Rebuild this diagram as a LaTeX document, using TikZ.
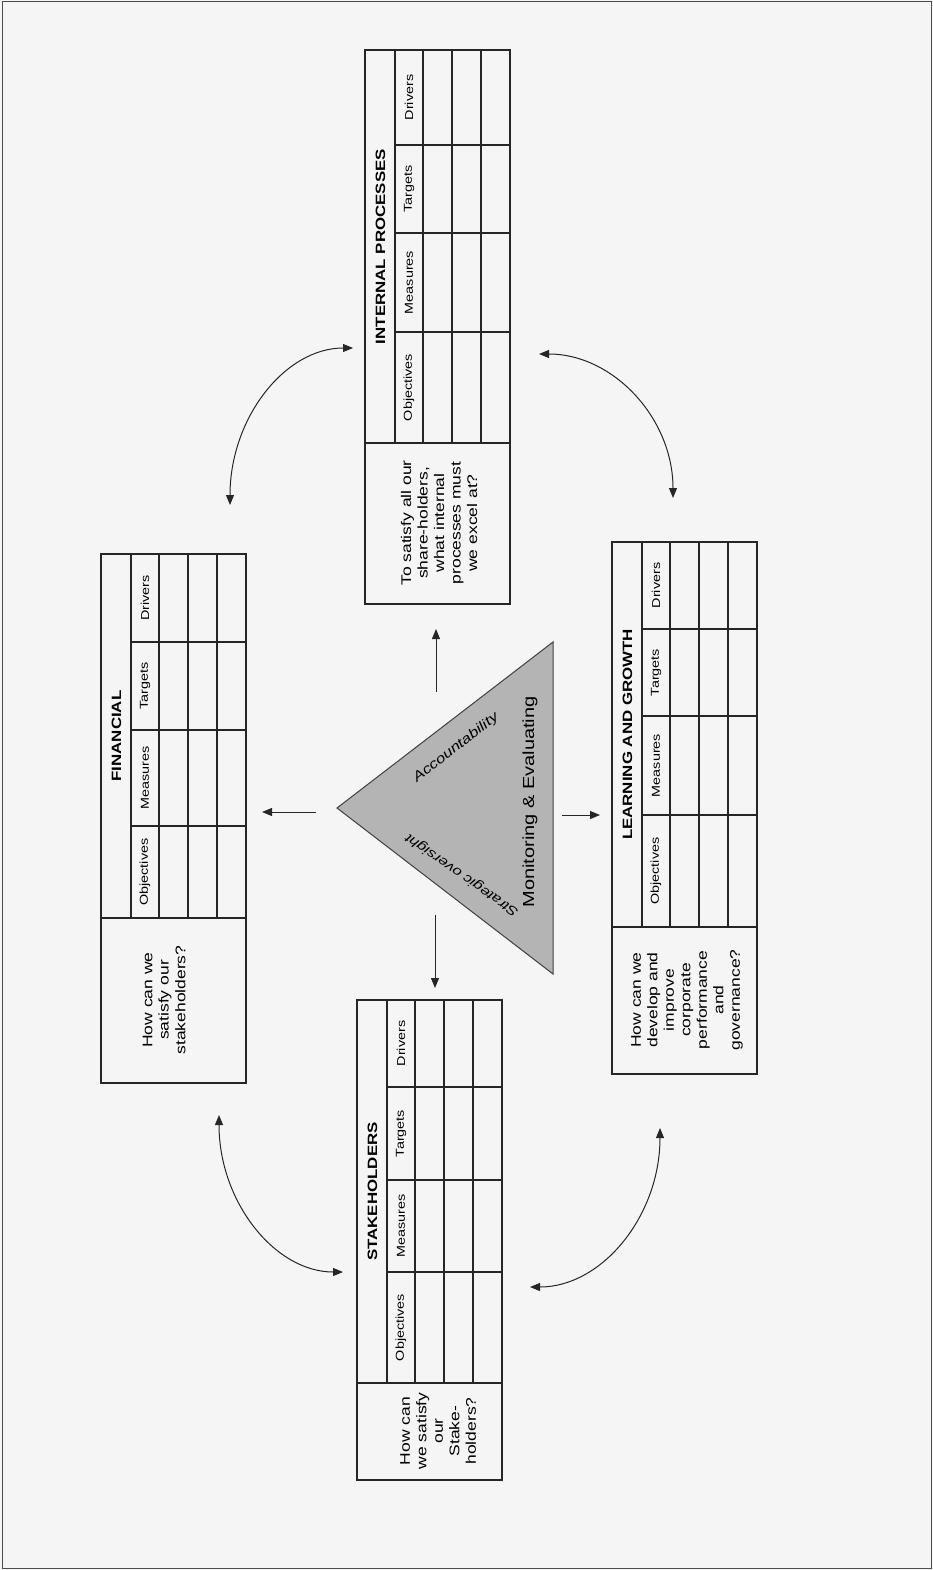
\documentclass[tikz,border=0pt]{standalone}
\usepackage{fontspec}
\setmainfont{Liberation Sans}[FakeStretch=1.25]
\usetikzlibrary{arrows.meta}
\definecolor{bgc}{RGB}{245,245,245}
\definecolor{trif}{RGB}{180,180,180}
\tikzset{
  tbl/.style={draw=black!85, line width=1.1pt},
  ttl/.style={rotate=90, inner sep=0pt, font=\bfseries\fontsize{13.5}{15}\selectfont},
  hdr/.style={rotate=90, inner sep=0pt, font=\fontsize{11.5}{13}\selectfont},
  qtxt/.style={rotate=90, inner sep=0pt, align=center, font=\fontsize{14}{16.5}\selectfont},
  arr/.style={-{Triangle[length=10pt,width=8pt]}, line width=1pt, black!85},
  darr/.style={{Triangle[length=10pt,width=8pt]}-{Triangle[length=10pt,width=8pt]}, line width=1pt, black!85},
}
% #1 name, #2 xL, #3 yT, #4 yDT, #5 yTM, #6 yMO, #7 yOQ, #8 yB, #9 title
\newcommand\bsctable[9]{%
  \draw[tbl] (#2,#3) rectangle ({#2+145},#8);
  \draw[tbl] (#2,#7) -- ({#2+145},#7);
  \foreach \o in {30,58,87,116} {\draw[tbl] ({#2+\o},#3) -- ({#2+\o},#7);}
  \foreach \yy in {#4,#5,#6} {\draw[tbl] ({#2+30},\yy) -- ({#2+145},\yy);}
  \node[ttl] (#1-title) at ({#2+15.5},{(#3+#7)/2}) {#9};
  \node[hdr] (#1-drv) at ({#2+44},{(#3+#4)/2}) {Drivers};
  \node[hdr] (#1-tgt) at ({#2+44},{(#4+#5)/2}) {Targets};
  \node[hdr] (#1-mea) at ({#2+44},{(#5+#6)/2}) {Measures};
  \node[hdr] (#1-obj) at ({#2+44},{(#6+#7)/2}) {Objectives};
}
\begin{document}
\begin{tikzpicture}[x=1pt, y=-1pt]
\fill[bgc] (0,0) rectangle (933,1570);
\useasboundingbox (0,0) rectangle (933,1570);
\draw[black!70, line width=1pt] (2,2) rectangle (931,1568);

% tables
\bsctable{fin}{101}{554}{642}{730}{826}{918}{1083}{FINANCIAL}
\node[qtxt] (fin-q) at (164,1000) {How can we\\satisfy our\\stakeholders?};

\bsctable{ip}{365}{50}{145}{233}{332}{443}{604}{INTERNAL PROCESSES}
\node[qtxt] (ip-q) at (439,523) {To satisfy all our\\share-holders,\\what internal\\processes must\\we excel at?};

\bsctable{stk}{357}{1000}{1087}{1180}{1272}{1383}{1480}{STAKEHOLDERS}
\node[qtxt] (stk-q) at (438,1431) {How can\\we satisfy\\our\\Stake-\\holders?};

\bsctable{lg}{612}{542}{629}{716}{815}{927}{1074}{LEARNING AND GROWTH}
\node[qtxt] (lg-q) at (687,1000) {How can we\\develop and\\improve\\corporate\\performance\\and\\governance?};

% triangle
\coordinate (tA) at (337,808);
\coordinate (tB) at (553,642);
\coordinate (tC) at (553,974);
\draw[fill=trif, draw=black!75, line width=1pt] (tA) -- (tB) -- (tC) -- cycle;
\node[rotate=90, inner sep=0pt, font=\fontsize{16}{18}\selectfont] (mon) at (530,802) {Monitoring \& Evaluating};
\node[rotate=38, inner sep=0pt, font=\itshape\fontsize{13.5}{15}\selectfont] (acc) at (456,748) {Accountability};
\node[rotate=145, inner sep=0pt, font=\itshape\fontsize{13}{15}\selectfont] (str) at (462,875) {Strategic oversight};

% straight arrows
\coordinate (aF0) at (316,812); \coordinate (aF1) at (262,812);
\coordinate (aI0) at (436,692); \coordinate (aI1) at (436,629);
\coordinate (aS0) at (435,915); \coordinate (aS1) at (435,988);
\coordinate (aL0) at (562,815); \coordinate (aL1) at (600,815);
\draw[arr] (aF0) -- (aF1);
\draw[arr] (aI0) -- (aI1);
\draw[arr] (aS0) -- (aS1);
\draw[arr] (aL0) -- (aL1);

% curved double arrows
\coordinate (c1a) at (230,505); \coordinate (c1b) at (353,348);
\coordinate (c2a) at (539,354); \coordinate (c2b) at (673,498);
\coordinate (c3a) at (219,1115); \coordinate (c3b) at (343,1272);
\coordinate (c4a) at (530,1287); \coordinate (c4b) at (660,1128);
\draw[darr] (c1a) .. controls (230,418) and (285,348) .. (c1b);
\draw[darr] (c2a) .. controls (613,354) and (673,418) .. (c2b);
\draw[darr] (c3a) .. controls (219,1202) and (275,1272) .. (c3b);
\draw[darr] (c4a) .. controls (602,1287) and (660,1216) .. (c4b);
\end{tikzpicture}
\end{document}
